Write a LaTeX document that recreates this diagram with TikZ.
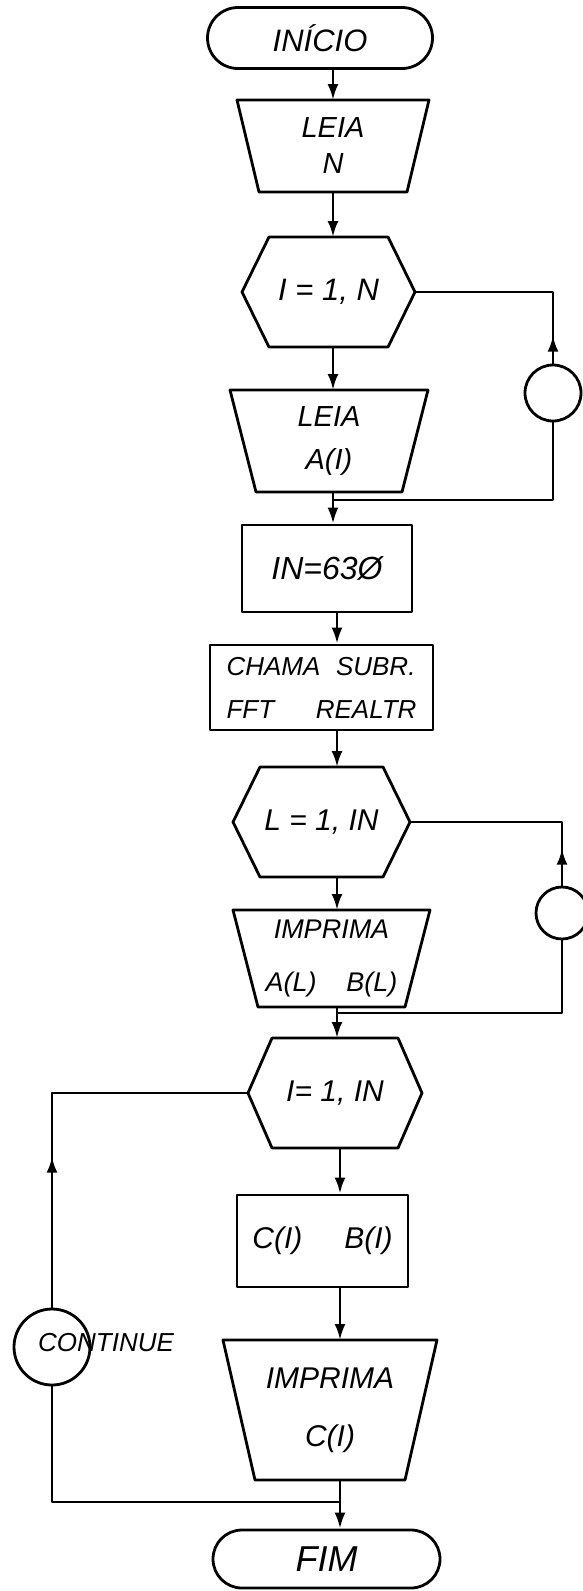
\documentclass[tikz,border=0pt]{standalone}
\usepackage{fontspec}
\setmainfont{Liberation Sans}
\usetikzlibrary{shapes.misc,arrows.meta}
\newcommand\fsz[2]{\fontsize{#1}{#2}\selectfont\itshape}
\newcommand\drawtrap[2]{\draw[ln] (#1.north west) -- (#1.north east) -- ([xshift=-#2]#1.south east) -- ([xshift=#2]#1.south west) -- cycle;}
\newcommand\drawhex[2]{\draw[ln] (#1.west) -- ([xshift=#2]#1.north west) -- ([xshift=-#2]#1.north east) -- (#1.east) -- ([xshift=-#2]#1.south east) -- ([xshift=#2]#1.south west) -- cycle;}
\begin{document}
\begin{tikzpicture}[x=1pt,y=-1pt,
  ln/.style={line width=2.8pt, line join=round},
  arr/.style={ln,-{Latex[length=16pt,width=11pt]}},
  shp/.style={inner sep=0pt, outer sep=0pt, align=center},
  rbox/.style={draw, ln, inner sep=0pt, align=center},
  term/.style={draw, ln, rounded rectangle, inner sep=0pt},
  circ/.style={draw, ln, circle, inner sep=0pt}]
\useasboundingbox (0,0) rectangle (582,1591);
\coordinate (axA) at (333,0);
\coordinate (axB) at (337,0);
\coordinate (axC) at (340,0);
\coordinate (j1) at (333,500);
\coordinate (j2) at (337,1013);
\coordinate (j3) at (340,1502);

\node[term, minimum width=225pt, minimum height=61pt, font=\fsz{31}{36}] (start) at (320,38) {INÍCIO};

\node[shp, minimum width=192pt, minimum height=92pt, font=\fsz{29}{36}] (leiaN) at (333,146) {LEIA\\N};
\drawtrap{leiaN}{22pt}

\node[shp, minimum width=173pt, minimum height=110pt, font=\fsz{31}{36}] (hex1) at (328.5,292) {I = 1, N};
\drawhex{hex1}{27pt}

\node[shp, minimum width=198pt, minimum height=102pt, font=\fsz{29}{43}] (leiaA) at (329,441) {LEIA\\A(I)};
\drawtrap{leiaA}{26pt}

\node[circ, minimum size=56pt] (c1) at (553,393) {};

\node[rbox, minimum width=170pt, minimum height=87pt, font=\fsz{32}{38}] (inb) at (327,568.5) {IN=63Ø};

\node[rbox, minimum width=223pt, minimum height=85pt, align=left, font=\fsz{26}{43}] (chama) at (321.5,687.5) {CHAMA\hspace{0.6em}SUBR.\\FFT\hspace{1.6em}REALTR};

\node[shp, minimum width=177pt, minimum height=110pt, font=\fsz{30}{36}] (hexL) at (321.5,822) {L = 1, IN};
\drawhex{hexL}{27pt}

\node[shp, minimum width=197pt, minimum height=97pt, font=\fsz{27}{53}] (imp1) at (331.5,958.5) {IMPRIMA\\A(L)\hspace{1.1em}B(L)};
\drawtrap{imp1}{25pt}

\node[circ, minimum size=52pt] (c2) at (562,913) {};

\node[shp, minimum width=174pt, minimum height=110pt, font=\fsz{30}{36}] (hexI) at (335,1093) {I= 1, IN};
\drawhex{hexI}{24pt}

\node[rbox, minimum width=171pt, minimum height=92pt, font=\fsz{30}{36}] (cb) at (322.5,1241) {C(I)\hspace{1.4em}B(I)};

\node[circ, minimum size=76pt] (cont) at (52,1347) {};
\node[font=\fsz{26}{30}, anchor=west, inner sep=0pt] (conttxt) at (38,1343) {CONTINUE};

\node[shp, minimum width=214pt, minimum height=140pt, font=\fsz{30}{58}] (imp2) at (330,1410) {IMPRIMA\\C(I)};
\drawtrap{imp2}{32pt}

\node[term, minimum width=227pt, minimum height=58pt, font=\fsz{36}{40}] (fim) at (326.5,1559) {FIM};

% main flow
\draw[arr] (start.south -| axA) -- (leiaN.north -| axA);
\draw[arr] (leiaN.south -| axA) -- (hex1.north -| axA);
\draw[arr] (hex1.south -| axA) -- (leiaA.north -| axA);
\draw[arr] (leiaA.south -| axA) -- (inb.north -| axA);
\draw[arr] (inb.south -| axB) -- (chama.north -| axB);
\draw[arr] (chama.south -| axB) -- (hexL.north -| axB);
\draw[arr] (hexL.south -| axB) -- (imp1.north -| axB);
\draw[arr] (imp1.south -| axB) -- (hexI.north -| axB);
\draw[arr] (hexI.south -| axC) -- (cb.north -| axC);
\draw[arr] (cb.south -| axC) -- (imp2.north -| axC);
\draw[arr] (imp2.south -| axC) -- (fim.north -| axC);

% loop 1
\draw[ln] (hex1.east) -- (hex1.east -| c1) -- (c1.north);
\draw[arr] (c1.north) -- ++(0,-28);
\draw[ln] (c1.south) -- (c1.south |- j1) -- (j1);

% loop 2
\draw[ln] (hexL.east) -- (hexL.east -| c2) -- (c2.north);
\draw[arr] (c2.north) -- ++(0,-37);
\draw[ln] (c2.south) -- (c2.south |- j2) -- (j2);

% loop 3
\draw[ln] (hexI.west) -- (hexI.west -| cont) -- (cont.north);
\draw[arr] (cont.north) -- ++(0,-151);
\draw[ln] (cont.south) -- (cont.south |- j3) -- (j3);
\end{tikzpicture}
\end{document}
